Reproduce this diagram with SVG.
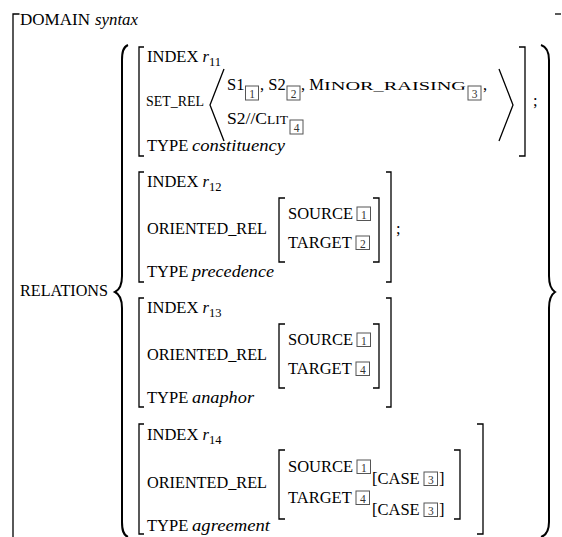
<svg xmlns="http://www.w3.org/2000/svg" width="562" height="537" viewBox="0 0 562 537">
<style>
.i{font-style:italic}
.sc{font-size:13.5px}
.sub{font-size:12.5px}
.bx{fill:none;stroke:#555;stroke-width:1}
.bn{font-size:11.5px;text-anchor:middle;fill:#333}
.br{fill:none;stroke:#000;stroke-width:1.3}
.brace{fill:none;stroke:#000;stroke-width:2}
</style>
<rect width="562" height="537" fill="#fff"/>
<g font-family="Liberation Serif, serif" font-size="16.5" fill="#000">
<g id="outer">
<path class="br" d="M19.5,14 H13 V537"/>
<path class="br" d="M555,14 H561"/>
<text x="20" y="25" textLength="70" lengthAdjust="spacingAndGlyphs">DOMAIN</text>
<text class="i" x="95" y="25" textLength="43" lengthAdjust="spacingAndGlyphs">syntax</text>
</g>
<g id="relations">
<text x="20" y="296" textLength="88" lengthAdjust="spacingAndGlyphs">RELATIONS</text>
<path class="brace" d="M128,45 C123,47 122,52 122,60 L122,276 C122,285 119,290 115,292 C119,294 122,299 122,308 L122,522 C122,530 123,535 128,537"/>
<path class="brace" d="M541,45 C547,47 549,52 549,60 L549,276 C549,285 552,290 555,292 C552,294 549,299 549,308 L549,522 C549,530 547,535 541,537"/>
</g>
<g id="r11">
<path class="br" d="M144,47 H139 V156 H144"/>
<path class="br" d="M519,47 H525 V156 H519"/>
<text x="147" y="62">INDEX <tspan class="i">r</tspan><tspan class="sub" dy="4">11</tspan></text>
<text x="146" y="106" font-size="14" textLength="58" lengthAdjust="spacingAndGlyphs">SET_REL</text>
<polyline class="br" points="224,69 210,105 224,141"/>
<polyline class="br" points="499,69 513,105 499,141"/>
<text x="227" y="90">S1</text>
<rect class="bx" x="245.5" y="86" width="13" height="14"/><text class="bn" x="252" y="97.5">1</text>
<text x="260" y="90">, S2</text>
<rect class="bx" x="287" y="86" width="13" height="14"/><text class="bn" x="293.5" y="97.5">2</text>
<text x="301" y="90">, M</text>
<text class="sc" x="324" y="90" textLength="142" lengthAdjust="spacingAndGlyphs">INOR_RAISING</text>
<rect class="bx" x="468" y="86" width="13" height="14"/><text class="bn" x="474.5" y="97.5">3</text>
<text x="483" y="90">,</text>
<text x="227" y="124" textLength="40" lengthAdjust="spacingAndGlyphs">S2//C</text>
<text class="sc" x="267" y="124">LIT</text>
<rect class="bx" x="290" y="120" width="13" height="14"/><text class="bn" x="296.5" y="131.5">4</text>
<text x="533" y="106">;</text>
<text x="147" y="151">TYPE</text>
<text class="i" x="192" y="151" textLength="93" lengthAdjust="spacingAndGlyphs">constituency</text>
</g>
<g id="r12">
<path class="br" d="M144,172 H139 V282 H144"/>
<path class="br" d="M386,172 H391 V282 H386"/>
<text x="147" y="187">INDEX <tspan class="i">r</tspan><tspan class="sub" dy="4">12</tspan></text>
<text x="147" y="234" textLength="120" lengthAdjust="spacingAndGlyphs">ORIENTED_REL</text>
<path class="br" d="M285,198 H279 V262 H285"/>
<path class="br" d="M373,198 H379 V262 H373"/>
<text x="288" y="219">SOURCE</text>
<rect class="bx" x="357" y="207" width="13.5" height="13.5"/><text class="bn" x="363.75" y="218.5">1</text>
<text x="288" y="248">TARGET</text>
<rect class="bx" x="356" y="236" width="13.5" height="13.5"/><text class="bn" x="362.75" y="247.5">2</text>
<text x="396" y="234">;</text>
<text x="147" y="277">TYPE</text>
<text class="i" x="192" y="277" textLength="82" lengthAdjust="spacingAndGlyphs">precedence</text>
</g>
<g id="r13">
<path class="br" d="M144,298 H139 V407 H144"/>
<path class="br" d="M386,298 H391 V407 H386"/>
<text x="147" y="313">INDEX <tspan class="i">r</tspan><tspan class="sub" dy="4">13</tspan></text>
<text x="147" y="360" textLength="120" lengthAdjust="spacingAndGlyphs">ORIENTED_REL</text>
<path class="br" d="M285,324 H279 V388 H285"/>
<path class="br" d="M373,324 H379 V388 H373"/>
<text x="288" y="345">SOURCE</text>
<rect class="bx" x="357" y="333" width="13.5" height="13.5"/><text class="bn" x="363.75" y="344.5">1</text>
<text x="288" y="374">TARGET</text>
<rect class="bx" x="356" y="362" width="13.5" height="13.5"/><text class="bn" x="362.75" y="373.5">4</text>
<text x="147" y="403">TYPE</text>
<text class="i" x="192" y="403" textLength="62" lengthAdjust="spacingAndGlyphs">anaphor</text>
</g>
<g id="r14">
<path class="br" d="M144,424 H139 V534 H144"/>
<path class="br" d="M477,424 H483 V534 H477"/>
<text x="147" y="440">INDEX <tspan class="i">r</tspan><tspan class="sub" dy="4">14</tspan></text>
<text x="147" y="488" textLength="120" lengthAdjust="spacingAndGlyphs">ORIENTED_REL</text>
<path class="br" d="M285,450 H279 V519 H285"/>
<path class="br" d="M454,450 H460 V519 H454"/>
<text x="288" y="472">SOURCE</text>
<rect class="bx" x="357" y="460" width="13.5" height="13.5"/><text class="bn" x="363.75" y="471.5">1</text>
<text x="372" y="484">[CASE</text>
<rect class="bx" x="424" y="472" width="13.5" height="13.5"/><text class="bn" x="430.75" y="483.5">3</text>
<text x="439" y="484">]</text>
<text x="288" y="503">TARGET</text>
<rect class="bx" x="356" y="491" width="13.5" height="13.5"/><text class="bn" x="362.75" y="502.5">4</text>
<text x="372" y="515">[CASE</text>
<rect class="bx" x="424" y="503" width="13.5" height="13.5"/><text class="bn" x="430.75" y="514.5">3</text>
<text x="439" y="515">]</text>
<text x="147" y="531">TYPE</text>
<text class="i" x="192" y="531" textLength="78" lengthAdjust="spacingAndGlyphs">agreement</text>
</g>
</g>
<g id="connectors"></g>
</svg>
